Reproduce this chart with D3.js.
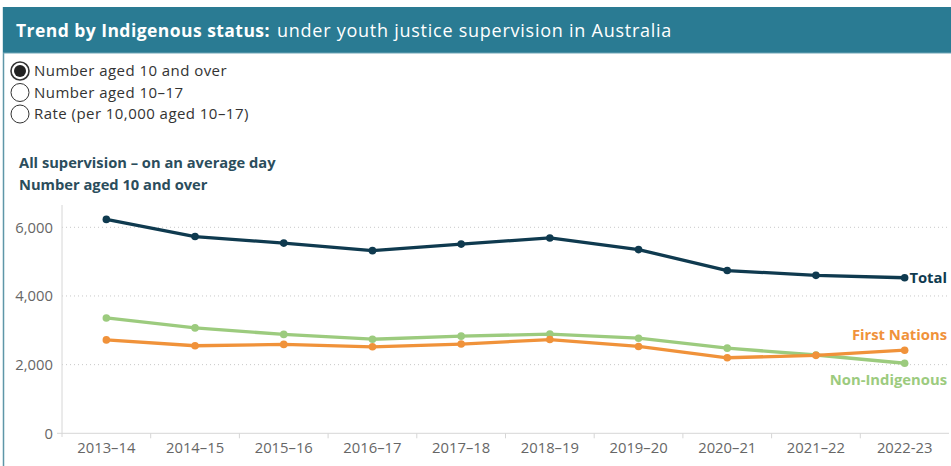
<!DOCTYPE html>
<html>
<head>
<meta charset="utf-8">
<script src="https://cdn.jsdelivr.net/npm/d3@7"></script>
<style>
  body { margin: 0; background: #fff; font-family: "Open Sans", "Noto Sans", sans-serif; }
</style>
</head>
<body>
<svg id="chart" width="951" height="466"></svg>
<script>
// data
const years = ["2013–14", "2014–15", "2015–16", "2016–17", "2017–18", "2018–19", "2019–20", "2020–21", "2021–22", "2022-23"];
const total = [6230, 5730, 5540, 5320, 5510, 5690, 5350, 4740, 4600, 4530];
const firstNations = [2720, 2550, 2590, 2520, 2600, 2730, 2530, 2200, 2270, 2420];
const nonIndigenous = [3360, 3070, 2880, 2740, 2830, 2890, 2770, 2480, 2280, 2040];
const yTicks = [0, 2000, 4000, 6000];
const radioLabels = ["Number aged 10 and over", "Number aged 10–17", "Rate (per 10,000 aged 10–17)"];

const series = [
  { name: "Total", values: total, color: "#0f3a4f", labelY: 278 },
  { name: "Non-Indigenous", values: nonIndigenous, color: "#9ccb7e", labelY: 380 },
  { name: "First Nations", values: firstNations, color: "#f0923a", labelY: 335 }
];

const svg = d3.select("#chart");
const W = 951, H = 466;

// panel border on the left
svg.append("line")
  .attr("x1", 3.5).attr("x2", 3.5).attr("y1", 7).attr("y2", H)
  .attr("stroke", "#5e96a8").attr("stroke-width", 1.5);

// header bar
svg.append("rect")
  .attr("x", 3).attr("y", 7).attr("width", W - 3).attr("height", 46)
  .attr("fill", "#2a7b93");
svg.append("line")
  .attr("x1", 3).attr("x2", W).attr("y1", 53).attr("y2", 53)
  .attr("stroke", "#6ea6b6").attr("stroke-width", 1);

const title = svg.append("text")
  .attr("x", 16).attr("y", 37)
  .attr("fill", "#fff");
title.append("tspan").attr("font-weight", "bold")
  .style("font-size", "17.5px").style("letter-spacing", "0.45px")
  .text("Trend by Indigenous status:");
title.append("tspan").attr("dx", 7)
  .style("font-size", "18px").style("letter-spacing", "0.75px")
  .text("under youth justice supervision in Australia");

// radio buttons
radioLabels.forEach(function(t, i) {
  const cy = 71 + i * 21.5;
  svg.append("circle")
    .attr("cx", 20).attr("cy", cy).attr("r", 9)
    .attr("fill", "#fff").attr("stroke", "#333").attr("stroke-width", i == 0 ? 1.6 : 1);
  if (i == 0) {
    svg.append("circle").attr("cx", 20).attr("cy", cy).attr("r", 6).attr("fill", "#222");
  }
  svg.append("text")
    .attr("x", 34).attr("y", cy + 5)
    .attr("fill", "#333").style("font-size", "15px").style("letter-spacing", "0.45px")
    .text(t);
});

// subtitle
svg.append("text").attr("x", 19).attr("y", 168)
  .attr("fill", "#2b4d5c").attr("font-weight", "bold").style("font-size", "14.7px")
  .text("All supervision – on an average day");
svg.append("text").attr("x", 19).attr("y", 190)
  .attr("fill", "#2b4d5c").attr("font-weight", "bold").style("font-size", "14.7px")
  .text("Number aged 10 and over");

// scales
const x = d3.scaleBand().domain(years).range([62, 949]);
const y = d3.scaleLinear().domain([0, 6000]).range([433.3, 227.3]);

// grid lines
svg.append("g").selectAll("line")
  .data(yTicks.filter(d => d > 0))
  .enter().append("line")
    .attr("x1", 62).attr("x2", 949)
    .attr("y1", d => y(d)).attr("y2", d => y(d))
    .attr("stroke", "#c8c8c8").attr("stroke-dasharray", "1,3");

// y axis
const yAxis = svg.append("g")
  .attr("transform", "translate(62,0)")
  .call(d3.axisLeft(y).tickValues(yTicks).tickFormat(d3.format(",")).tickSize(0).tickPadding(9));
yAxis.select(".domain").attr("stroke", "#d6d6d6").attr("d", "M0,205V437");
yAxis.selectAll("text").attr("fill", "#666").style("font-size", "14.8px").style("font-family", "Open Sans, sans-serif");

// x axis
const xAxis = svg.append("g")
  .attr("transform", "translate(0,433.3)")
  .call(d3.axisBottom(x).tickSize(0).tickPadding(9));
xAxis.select(".domain").attr("stroke", "#d6d6d6").attr("d", "M57,0H949");
xAxis.selectAll("text").attr("fill", "#666").style("font-size", "14.8px").style("font-family", "Open Sans, sans-serif");
// little ticks between bands
xAxis.append("g").selectAll("line")
  .data(years.slice(1))
  .enter().append("line")
    .attr("x1", d => x(d)).attr("x2", d => x(d))
    .attr("y1", 0).attr("y2", 5)
    .attr("stroke", "#d6d6d6");

// lines and points
const line = d3.line()
  .x((d, i) => x(years[i]) + x.bandwidth() / 2)
  .y(d => y(d));

series.forEach(function(s) {
  svg.append("path")
    .datum(s.values)
    .attr("d", line)
    .attr("fill", "none")
    .attr("stroke", s.color)
    .attr("stroke-width", 3.3)
    .attr("stroke-linejoin", "round");
  svg.append("g").selectAll("circle")
    .data(s.values)
    .enter().append("circle")
      .attr("cx", (d, i) => x(years[i]) + x.bandwidth() / 2)
      .attr("cy", d => y(d))
      .attr("r", 3.8)
      .attr("fill", s.color);
  svg.append("text")
    .attr("x", 947).attr("y", s.labelY + 5)
    .attr("text-anchor", "end")
    .attr("fill", s.color).attr("font-weight", "bold")
    .style("font-size", "14.8px")
    .text(s.name);
});
</script>
</body>
</html>
